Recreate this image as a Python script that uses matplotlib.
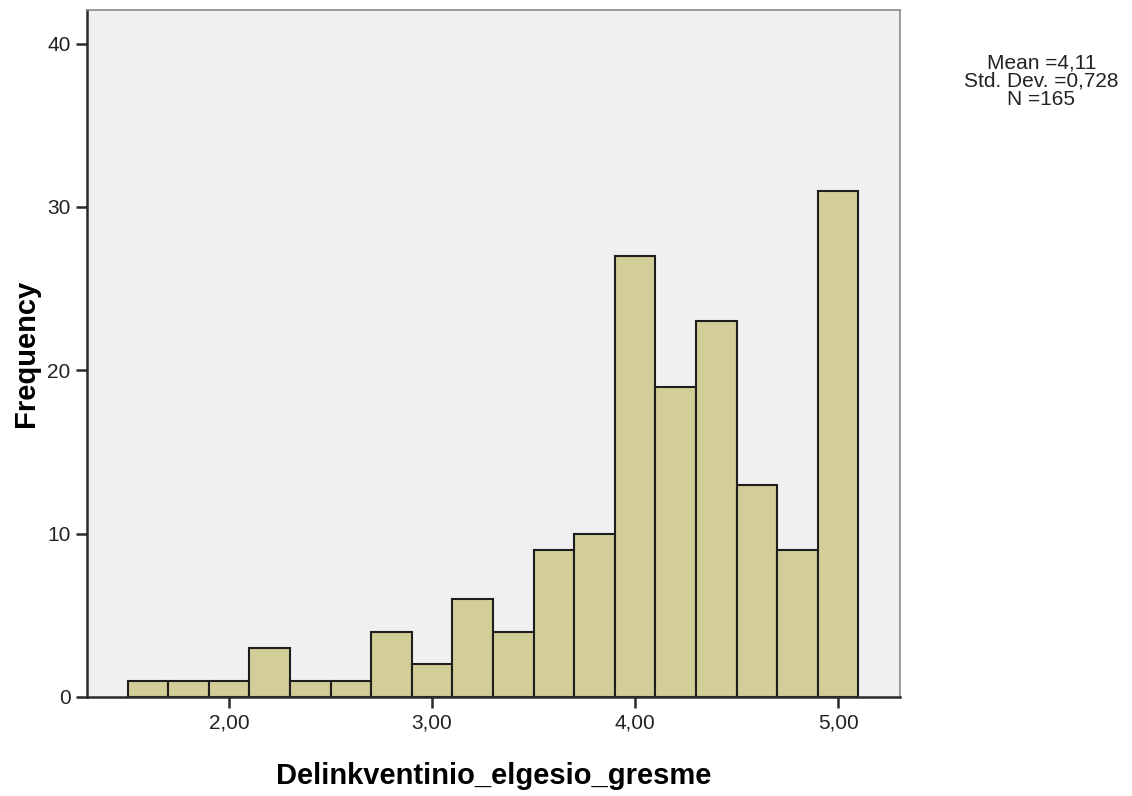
import numpy as np
import matplotlib
matplotlib.use('Agg')
import matplotlib.pyplot as plt

plt.rcParams['font.family'] = ['Liberation Sans', 'DejaVu Sans']

# histogram bins (lower edges) and counts
bin_left = [1.5, 1.7, 1.9, 2.1, 2.3, 2.5, 2.7, 2.9, 3.1, 3.3,
            3.5, 3.7, 3.9, 4.1, 4.3, 4.5, 4.7, 4.9]
counts = [1, 1, 1, 3, 1, 1, 4, 2, 6, 4, 9, 10, 27, 19, 23, 13, 9, 31]
bin_width = 0.2
x_ticks = [2.0, 3.0, 4.0, 5.0]
x_tick_labels = ['2,00', '3,00', '4,00', '5,00']
y_ticks = [0, 10, 20, 30, 40]
stats_text = 'Mean =4,11\nStd. Dev. =0,728\nN =165'

fig = plt.figure(figsize=(11.32, 7.96), dpi=100)
ax = fig.add_axes([0.0769, 0.1244, 0.7181, 0.863])
ax.set_facecolor('#f0f0f0')

ax.bar(bin_left, counts, width=bin_width, align='edge',
       color='#d3ce97', edgecolor='#1e1e1e', linewidth=1.5, zorder=2)

ax.set_xlim(1.3, 5.305)
ax.set_ylim(0, 42.05)
ax.set_xticks(x_ticks)
ax.set_xticklabels(x_tick_labels)
ax.set_yticks(y_ticks)

for s in ax.spines.values():
    s.set_color('#8c8c8c')
    s.set_linewidth(1.2)
ax.spines['left'].set_color('#2a2a2a')
ax.spines['bottom'].set_color('#2a2a2a')
ax.spines['left'].set_linewidth(1.8)
ax.spines['bottom'].set_linewidth(1.8)

ax.tick_params(axis='both', direction='out', length=8, width=1.8,
               color='#2a2a2a', labelsize=15, labelcolor='#222222', pad=4)

ax.set_xlabel('Delinkventinio_elgesio_gresme', fontsize=21, fontweight='bold',
              labelpad=21)
ax.set_ylabel('Frequency', fontsize=21, fontweight='bold', labelpad=5)

fig.text(0.92, 0.898, stats_text, ha='center', va='center', fontsize=15,
         linespacing=0.95, color='#222222')

fig.savefig('out.png', dpi=100)
